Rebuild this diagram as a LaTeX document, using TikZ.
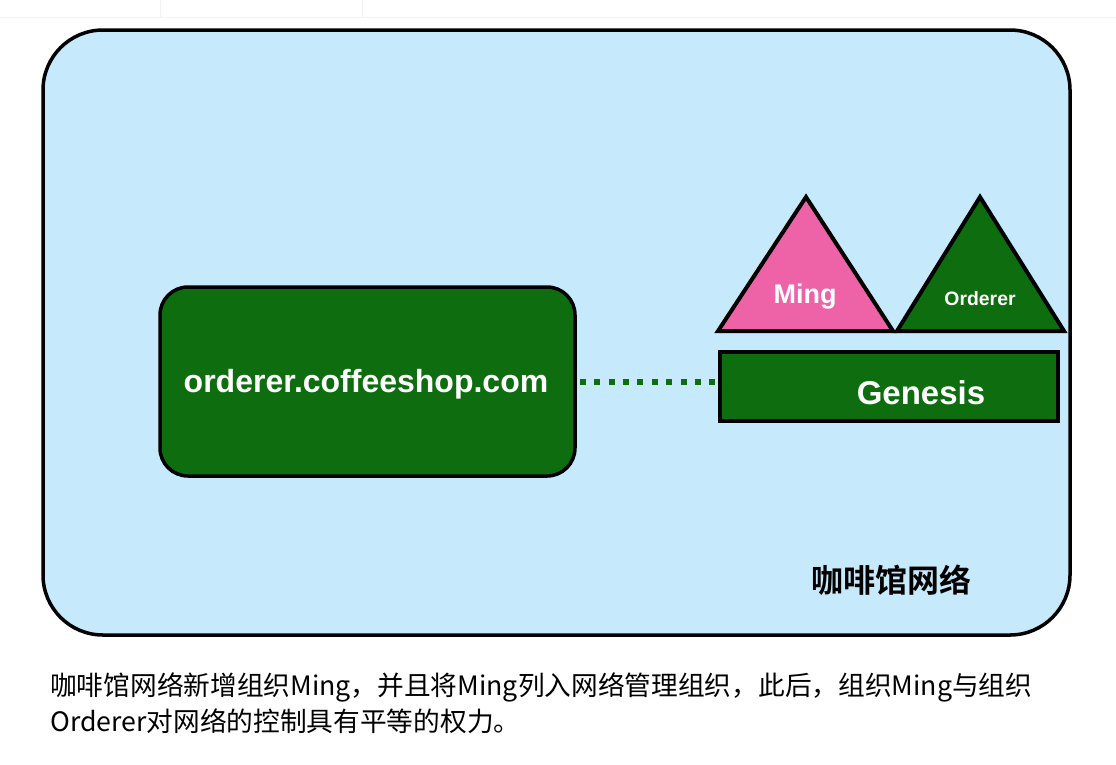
\documentclass[tikz,border=0pt]{standalone}
\usepackage{fontspec}
\setmainfont{Liberation Sans}
\newfontfamily\cjk{Noto Sans CJK SC}[BoldFont={Noto Sans CJK SC Bold}]
\usetikzlibrary{shapes.geometric}
\definecolor{netblue}{HTML}{C7E9FC}
\definecolor{ordgreen}{HTML}{0E6E0F}
\definecolor{mingpink}{HTML}{EE63A8}
\definecolor{faint}{HTML}{F2F2F2}
\tikzset{
  outline/.style={draw=black, line width=3.5pt},
  whitelabel/.style={text=white, font=\bfseries, inner sep=0pt},
  tri/.style={draw=black, line width=4pt, line join=miter},
}
\begin{document}
\begin{tikzpicture}[x=1pt,y=-1pt]
\useasboundingbox[fill=white] (0,0) rectangle (1116,764);
% faint top separators
\draw[faint, line width=1pt] (0,17) -- (1116,17);
\draw[faint, line width=1pt] (160,0) -- (160,17);
\draw[faint, line width=1pt] (362,0) -- (362,17);
% network box
\node[outline, fill=netblue, rounded corners=60pt, minimum width=1027pt, minimum height=605pt] (net) at (556.5,332.5) {};
\node[font=\cjk\bfseries\fontsize{32}{36}\selectfont, inner sep=0pt] (netlabel) at (891,580) {咖啡馆网络};
% orderer node
\node[outline, fill=ordgreen, rounded corners=28pt, minimum width=415pt, minimum height=189pt] (orderer) at (367.5,381.5) {};
\node[whitelabel, font=\bfseries\fontsize{32}{36}\selectfont] (ordtext) at (366,384) {orderer.coffeeshop.com};
% genesis block
\node[tri, fill=ordgreen, minimum width=338pt, minimum height=69pt] (genesis) at (889,386.5) {};
\node[whitelabel, font=\bfseries\fontsize{33}{38}\selectfont] (gentext) at (921,393) {Genesis};
% connector
\draw[ordgreen, line width=6pt, dash pattern=on 6pt off 8.4pt] (orderer.east) ++(3,0) coordinate (cs) (cs) -- (genesis.west |- cs);
% triangles
\coordinate (m1) at (718,331); \coordinate (m2) at (806,197); \coordinate (m3) at (893,331);
\draw[tri, fill=mingpink] (m1) -- (m2) -- (m3) -- cycle;
\node[whitelabel, font=\bfseries\fontsize{27}{32}\selectfont] (ming) at (805,297) {Ming};
\coordinate (o1) at (897,331); \coordinate (o2) at (980,197); \coordinate (o3) at (1064,331);
\draw[tri, fill=ordgreen] (o1) -- (o2) -- (o3) -- cycle;
\node[whitelabel, font=\bfseries\fontsize{19.4}{23}\selectfont] (ordlabel) at (980,299) {Orderer};
% caption
\node[anchor=base west, inner sep=0pt, font=\cjk\fontsize{26.7}{32}\selectfont] (cap1) at (50,695) {咖啡馆网络新增组织Ming，并且将Ming列入网络管理组织，此后，组织Ming与组织};
\node[anchor=base west, inner sep=0pt, font=\cjk\fontsize{26.7}{32}\selectfont] (cap2) at (50,731) {Orderer对网络的控制具有平等的权力。};
\end{tikzpicture}
\end{document}
